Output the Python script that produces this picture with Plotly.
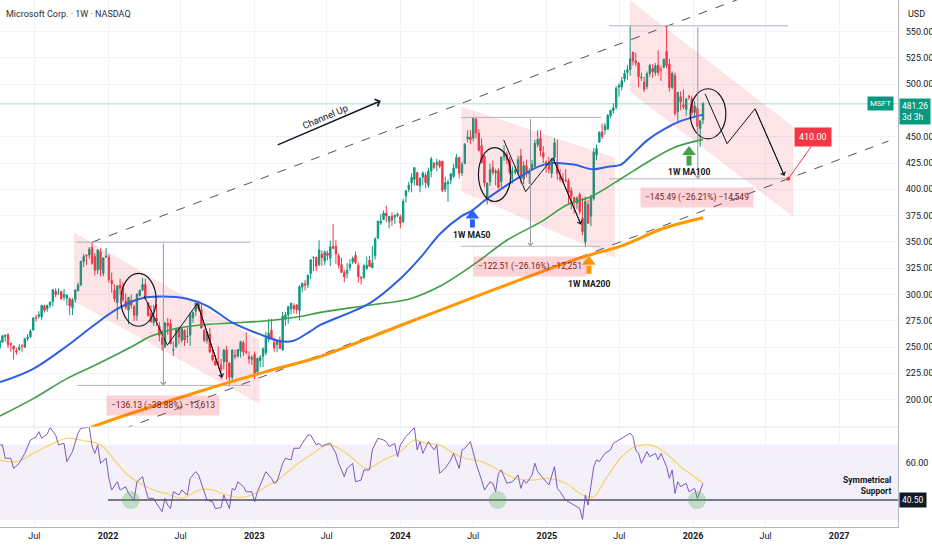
import plotly.graph_objects as go
import pandas as pd

# MSFT weekly candles, week of 2021-04-05 .. week of 2026-01-26
open_ = [
    249.1, 254.7, 260.2, 261.7, 253.4, 250.9, 246.6, 247.8, 251.2, 249.9, 257.9, 259.8, 266.2, 278.0, 279.2, 278.9, 289.0, 286.4, 289.8, 293.2,
    303.2, 301.1, 302.9, 297.6, 296.3, 296.1, 287.4, 295.3, 303.6, 309.4, 331.4, 337.3, 337.5, 344.6, 336.2, 323.2, 340.7, 320.1, 335.5,
    335.4, 313.2, 304.1, 292.2, 308.9, 306.2, 293.8, 285.0, 294.3, 288.5, 280.3, 298.9, 304.3, 309.4, 292.0, 281.7, 273.3, 277.7, 270.1, 259.0,
    250.3, 272.5, 272.1, 247.0, 250.3, 268.2, 256.4, 265.7, 259.8, 261.2, 277.8, 284.1, 291.0, 285.6, 265.9, 256.2, 262.3, 242.5, 236.8, 235.4,
    233.1, 236.0, 247.3, 234.8, 221.3, 242.0, 241.4, 246.1, 254.0, 245.9, 241.0, 238.7,
    243.1, 226.4, 237.0, 241.1, 244.5, 257.4, 266.0, 254.5, 252.5, 256.4, 247.4, 276.9, 280.5, 286.5, 289.3, 289.9, 284.7, 306.9, 310.1, 309.1,
    320.0, 335.3, 335.2, 328.6, 338.3, 331.9, 339.2, 334.6, 345.7, 345.9, 336.9, 328.3, 320.8, 320.2, 325.7, 331.3, 337.2, 327.8, 316.6, 316.3,
    324.8, 332.6, 325.5, 337.0, 353.4, 368.0, 371.2, 377.3, 369.1, 374.3, 373.7, 375.0,
    373.9, 369.3, 393.7, 400.0, 406.1, 409.3, 415.9, 403.2, 411.5, 413.4, 403.8, 417.3, 424.7, 423.6, 426.6, 426.6, 400.1, 405.3, 408.8, 412.2,
    420.2, 430.3, 415.5, 424.7, 448.0, 449.8, 448.7, 466.6, 453.3, 441.4, 431.6, 392.0, 407.1, 420.6, 415.7, 417.9, 407.2, 431.0, 433.0, 428.2,
    416.0, 416.1, 416.1, 431.7, 409.8, 422.5, 414.9, 419.1, 421.6, 442.6, 448.4, 434.7, 426.1,
    424.0, 415.2, 430.2, 424.0, 411.6, 409.6, 408.9, 408.0, 398.8, 392.3, 386.9, 395.2, 372.5, 350.0, 385.5, 374.4, 391.0, 432.8, 445.0, 454.6,
    456.5, 457.1, 470.0, 475.0, 478.0, 497.0, 497.3, 505.0, 511.0, 514.0, 530.0, 522.0, 520.0, 506.0, 502.0, 498.0, 510.0, 515.0, 511.0, 518.0,
    514.0, 516.0, 531.0, 519.0, 497.0, 508.0, 474.0, 488.0, 480.0, 476.0, 488.0, 486.0,
    473.0, 477.0, 458.0, 466.0,
]
high = [
    256.0, 261.0, 261.8, 263.2, 254.4, 251.7, 249.5, 252.9, 252.8, 258.1, 262.3, 267.0, 278.0, 280.7, 284.1, 289.9, 290.2, 290.3, 293.0, 305.3,
    305.8, 305.8, 303.5, 305.3, 300.1, 297.0, 296.6, 304.8, 311.1, 332.0, 338.8, 338.1, 345.1, 349.7, 339.3, 343.0, 343.8, 335.0, 344.3,
    338.0, 320.9, 309.8, 308.5, 315.1, 311.9, 300.9, 297.6, 300.0, 290.0, 301.0, 305.0, 315.9, 315.1, 292.6, 289.9, 290.0, 290.9, 273.8, 266.1,
    273.3, 277.7, 276.6, 255.3, 268.3, 269.4, 268.0, 267.0, 268.4, 283.1, 284.1, 292.4, 294.2, 290.2, 267.1, 264.7, 268.3, 247.7, 242.6, 250.6,
    238.6, 248.0, 251.0, 235.6, 248.0, 247.6, 248.0, 256.1, 256.1, 263.9, 245.8, 242.0,
    245.8, 240.0, 242.4, 249.8, 264.7, 276.8, 276.8, 259.0, 256.0, 260.1, 283.3, 283.3, 289.3, 292.1, 291.6, 291.0, 308.9, 311.0, 313.8, 319.0,
    333.4, 335.9, 336.0, 351.5, 342.0, 342.0, 341.7, 351.2, 366.8, 351.9, 339.0, 334.9, 323.4, 329.9, 333.5, 336.2, 340.9, 330.4, 317.2, 329.2,
    336.1, 336.9, 346.2, 354.4, 370.1, 376.4, 379.8, 384.3, 373.0, 378.0, 376.0, 378.0,
    375.9, 391.0, 398.7, 407.0, 415.3, 420.8, 416.0, 411.8, 417.0, 415.9, 420.7, 430.8, 426.0, 429.0, 428.1, 426.8, 412.0, 409.1, 415.3, 424.2,
    433.6, 431.0, 426.3, 444.0, 456.2, 456.2, 468.4, 467.7, 457.3, 448.4, 432.4, 406.0, 424.3, 427.5, 419.4, 420.0, 431.0, 441.9, 436.0, 431.0,
    421.7, 422.5, 432.0, 438.5, 426.9, 428.2, 419.9, 428.0, 447.1, 456.2, 456.2, 441.0, 427.5,
    430.7, 429.5, 448.4, 447.2, 419.6, 415.5, 419.3, 410.4, 402.0, 392.7, 393.5, 396.9, 392.0, 393.2, 389.7, 395.0, 439.4, 442.5, 455.0, 462.5,
    463.0, 471.5, 475.5, 482.0, 498.0, 500.8, 507.0, 513.4, 518.3, 555.45, 531.0, 530.0, 521.0, 511.0, 507.0, 512.0, 519.3, 519.0, 520.0, 532.0,
    517.0, 524.0, 555.45, 524.0, 512.0, 511.0, 493.0, 493.0, 495.0, 487.0, 490.0, 489.0,
    484.0, 480.0, 466.0, 483.0,
]
low = [
    247.0, 254.1, 255.2, 249.0, 245.6, 238.1, 242.6, 246.3, 245.6, 249.3, 255.6, 258.6, 265.9, 274.2, 277.0, 275.6, 282.8, 283.5, 287.2, 288.6,
    297.4, 299.5, 295.4, 294.1, 289.5, 280.3, 280.3, 292.4, 302.7, 307.8, 326.1, 327.8, 334.0, 328.2, 318.0, 319.2, 317.3, 317.2, 335.0,
    311.5, 301.6, 293.0, 276.1, 299.9, 293.0, 285.7, 271.5, 286.5, 275.0, 275.1, 298.0, 303.0, 294.9, 278.9, 273.2, 270.0, 270.0, 255.4, 246.4,
    249.0, 261.6, 252.9, 241.5, 249.2, 252.6, 254.1, 251.0, 253.8, 251.0, 273.1, 279.6, 284.6, 267.9, 254.8, 253.3, 244.2, 236.3, 232.3, 233.1,
    219.1, 228.6, 219.1, 213.4, 218.2, 238.3, 239.8, 240.0, 241.5, 243.3, 233.9, 233.0,
    219.4, 226.0, 230.7, 230.9, 242.2, 254.8, 261.9, 245.6, 245.0, 248.1, 246.4, 270.5, 272.3, 281.1, 282.0, 281.6, 275.4, 302.1, 303.8, 306.0,
    314.6, 322.3, 322.5, 326.8, 327.1, 327.8, 332.6, 327.0, 343.0, 329.1, 324.8, 320.5, 311.6, 315.1, 322.4, 329.0, 328.8, 311.2, 309.5, 314.6,
    323.3, 326.0, 325.0, 333.3, 353.3, 366.0, 370.8, 368.9, 362.9, 365.0, 367.2, 373.4,
    362.9, 367.8, 387.3, 397.2, 397.2, 403.4, 403.4, 397.2, 404.0, 400.9, 401.3, 411.5, 419.0, 417.1, 420.0, 397.4, 397.4, 388.0, 404.9, 410.7,
    419.8, 410.3, 412.8, 423.8, 444.6, 442.7, 445.5, 448.2, 436.0, 424.6, 402.3, 385.6, 403.2, 414.0, 403.8, 401.0, 401.6, 427.1, 424.0, 414.1,
    405.6, 413.9, 413.8, 405.5, 405.0, 411.5, 405.0, 418.0, 420.0, 440.0, 431.6, 425.0, 415.8,
    415.0, 410.7, 426.0, 408.9, 407.0, 406.1, 406.6, 386.6, 381.0, 376.9, 381.3, 376.2, 356.3, 344.8, 367.2, 365.0, 389.1, 427.6, 444.0, 448.0,
    452.0, 457.0, 467.5, 472.0, 476.0, 488.0, 494.0, 502.0, 504.0, 508.0, 518.0, 517.0, 497.0, 503.0, 492.4, 495.0, 507.0, 506.0, 508.0, 508.0,
    503.0, 515.0, 515.0, 493.0, 495.0, 470.0, 464.0, 475.0, 476.0, 470.0, 485.0, 470.0,
    469.0, 455.0, 440.5, 462.0,
]
close = [
    255.9, 260.7, 261.2, 252.2, 252.5, 248.2, 245.2, 249.7, 250.8, 257.9, 259.4, 265.0, 277.7, 277.9, 280.8, 289.7, 284.9, 289.5, 292.9, 304.4,
    299.7, 301.1, 295.7, 299.9, 299.4, 289.1, 294.9, 304.2, 309.2, 331.6, 336.1, 336.7, 343.1, 329.7, 323.0, 342.5, 323.8, 334.7, 336.3,
    314.0, 310.2, 296.0, 308.3, 305.9, 295.0, 287.9, 297.3, 289.9, 280.1, 300.4, 303.7, 309.4, 297.0, 280.0, 274.0, 277.5, 274.7, 261.1, 252.6,
    273.2, 270.4, 253.0, 247.7, 267.7, 259.6, 267.7, 256.7, 260.4, 280.7, 282.9, 291.9, 286.2, 268.1, 256.1, 264.5, 245.4, 237.9, 232.9, 234.2,
    228.6, 247.3, 235.9, 221.4, 247.1, 241.2, 247.5, 255.0, 245.4, 244.7, 238.7, 239.8,
    224.9, 239.2, 240.2, 248.2, 258.4, 263.1, 258.1, 249.2, 255.3, 248.6, 279.4, 280.6, 288.3, 291.6, 286.1, 285.8, 307.3, 310.7, 309.0, 318.3,
    332.9, 335.4, 326.8, 342.3, 335.0, 340.5, 337.2, 345.2, 343.8, 338.4, 327.8, 321.0, 316.5, 323.0, 328.7, 334.3, 330.2, 317.0, 315.8, 327.3,
    327.7, 326.7, 329.8, 352.8, 369.7, 369.9, 377.4, 374.5, 374.2, 370.7, 375.3, 376.0,
    367.8, 388.5, 398.7, 403.9, 411.2, 420.6, 404.1, 410.3, 415.5, 406.2, 417.3, 428.7, 420.7, 425.5, 421.9, 399.1, 406.3, 406.7, 414.7, 420.2,
    430.2, 415.1, 423.9, 442.6, 449.8, 447.0, 467.6, 453.6, 437.1, 425.3, 406.0, 406.0, 418.5, 416.1, 417.1, 401.7, 430.6, 435.3, 428.0, 416.1,
    416.3, 418.2, 428.2, 410.4, 422.5, 415.0, 417.0, 423.5, 443.6, 447.3, 436.6, 430.5, 423.4,
    419.0, 429.0, 444.1, 415.1, 409.8, 408.4, 408.2, 397.0, 393.3, 388.6, 391.3, 378.8, 359.8, 388.5, 367.8, 391.9, 435.3, 438.7, 454.3, 450.2,
    460.4, 470.4, 475.0, 477.4, 495.9, 498.8, 503.3, 510.1, 513.7, 524.1, 522.0, 520.2, 507.2, 506.7, 495.0, 509.9, 517.9, 511.5, 517.4, 511.0,
    513.6, 523.6, 517.8, 496.8, 510.2, 472.1, 492.0, 483.2, 478.5, 485.9, 487.7, 472.9,
    479.3, 459.9, 465.0, 481.26,
]
weeks = pd.date_range("2021-04-05", periods=len(close), freq="7D")

# moving averages
ma50_dates = ["2021-04-06", "2021-06-27", "2021-09-20", "2021-11-24", "2022-01-23", "2022-03-22", "2022-05-11", "2022-07-17",
              "2022-09-06", "2022-11-09", "2023-01-16", "2023-03-07", "2023-04-09", "2023-05-21", "2023-06-15", "2023-10-18",
              "2024-01-01", "2024-02-20", "2024-04-10", "2024-05-31", "2024-06-29", "2024-08-01", "2024-09-25", "2024-11-04",
              "2024-12-17", "2025-01-18", "2025-03-09", "2025-04-26", "2025-06-02", "2025-07-05", "2025-07-30", "2025-09-10",
              "2025-10-20", "2025-12-02", "2026-01-26"]
ma50_vals = [216.6, 229, 251, 270, 286, 296, 298, 296, 289, 273, 262, 255.6, 256, 265, 271, 292, 315, 335, 358, 374,
             380, 390, 404.5, 414, 422.5, 425, 423.5, 419, 421.5, 423.5, 432, 447, 457, 465, 471]
ma100_dates = ["2021-04-06", "2021-06-27", "2021-09-20", "2021-12-12", "2022-03-04", "2022-04-16", "2022-06-12", "2022-08-19",
               "2022-11-09", "2023-02-03", "2023-04-26", "2023-06-15", "2023-10-18", "2024-01-26", "2024-04-10", "2024-05-31",
               "2024-07-19", "2024-09-25", "2024-12-17", "2025-02-22", "2025-04-21", "2025-07-05", "2025-09-10", "2025-11-14",
               "2026-01-26"]
ma100_vals = [184.5, 200.7, 220, 235, 251, 260, 267, 271, 273, 275, 279, 283, 290, 296, 308, 320, 333, 352, 369, 385.5,
              393, 410, 426, 439.6, 447.5]
ma200_dates = ["2021-10-23", "2021-11-29", "2022-08-19", "2023-02-03", "2023-06-15", "2024-01-01", "2024-06-17",
               "2025-03-27", "2025-07-05", "2025-10-20", "2026-01-26"]
ma200_vals = [169, 175, 208, 227, 241, 270.5, 295, 335, 346, 363, 373]

# RSI (week index into weeks) and its moving average
rsi_week = [0, 1, 2, 4, 5, 7, 9, 11, 13, 14, 15, 17, 18, 20, 21, 23, 24, 26, 28, 29, 31, 32, 33, 34, 35, 36, 38, 39, 40, 42,
            43, 45, 46, 48, 49, 51, 52, 53, 55, 56, 58, 59, 60, 61, 62, 64, 65, 67, 68, 70, 71, 72, 74, 76, 77, 79, 80, 82, 83, 84,
            85, 87, 88, 90, 91, 92, 93, 95, 97, 98, 99, 101, 102, 104, 105, 107, 108, 110, 111, 113, 114, 115, 116, 118, 120, 121, 123, 124, 126, 127,
            129, 130, 132, 133, 135, 137, 138, 139, 141, 142, 143, 145, 148, 149, 150, 151, 153, 155, 156, 157, 159, 161, 162, 164, 165, 166, 168, 170, 172, 173,
            175, 176, 177, 178, 179, 181, 183, 185, 186, 187, 188, 190, 191, 192, 194, 196, 198, 199, 200, 202, 203, 205, 206, 207, 208, 209, 210, 211, 212, 213,
            214, 216, 218, 219, 222, 224, 225, 226, 227, 228, 229, 231, 232, 234, 235, 236, 238, 239, 240, 241, 242, 243, 245, 246, 248, 249, 250, 251]
rsi_val = [69.8, 69.8, 62.7, 62.7, 57.3, 60, 65.3, 72.4, 74, 76.8, 73.3, 75.5, 79, 75, 69.8, 70.6, 60.9, 66.2, 76, 78.6, 79, 79.3, 68.9, 65.3, 69.8, 60, 62.7, 52, 45.8, 50.2,
           45.8, 47.6, 44, 40.5, 50.2, 52.9, 46.7, 41.4, 41.4, 38.7, 34.3, 41.4, 37.8, 36, 44.9, 43.2, 45.8, 43.2, 52, 55.6, 53.8, 49.4, 40.5, 39.6, 36, 36.5, 43.2, 36, 46.7, 45.8,
           50.2, 47.6, 44.9, 44.9, 39.6, 44.9, 48.5, 55.6, 52, 49.4, 50.2, 60, 62.7, 61.8, 68, 68, 70.6, 75, 75, 69.8, 70.6, 68.9, 69.8, 70.6, 65.3, 60, 52.9, 57.3, 60, 50.2,
           51.1, 56.5, 56.5, 67.1, 73.3, 72.4, 71.5, 68.9, 70.6, 63.5, 69.8, 74.2, 79, 67.1, 71.5, 65.3, 71.5, 67.1, 69.8, 54.7, 57.3, 61.8, 65.3, 57.3, 67.1, 68, 71.5, 60, 51.1, 45.8,
           50.2, 49.4, 44.9, 54.7, 56.5, 49.4, 50.2, 53.8, 46.7, 51.1, 49.4, 53.8, 60, 55.6, 52, 48.5, 58.2, 46.7, 44.9, 40.5, 39.6, 37.8, 36.5, 36, 30.2, 43.2, 37.8, 49, 58.2, 61.8,
           60.9, 65.3, 67.1, 70.6, 73.3, 75, 76, 74.2, 67.1, 65.3, 60, 66.2, 63.5, 65.3, 61.8, 65.3, 58.2, 52, 56.5, 44, 50.2, 47.6, 49.4, 44.9, 46.7, 41.4, 44.9, 49.4]
rsi_ma_week = [0, 6, 12, 18, 24, 30, 36, 40, 45, 50, 55, 60, 65, 71, 75, 81, 86, 90, 95, 100, 105, 111, 117, 121, 126,
               131, 137, 143, 148, 152, 157, 162, 166, 172, 178, 184, 190, 196, 202, 208, 212, 216, 222, 227, 232, 237, 243, 247, 251]
rsi_ma_val = [61.8, 60.9, 65.3, 69.8, 73.3, 72, 69.8, 63.5, 54.7, 49.4, 45.8, 43.7, 41.4, 45.8, 46.2, 43.2, 41.9, 43.2, 47.6, 52,
              58.2, 64.4, 69.8, 68, 62.7, 57.3, 61.8, 66.2, 72.4, 70.6, 69.8, 65.3, 62.7, 60.9, 56.5, 52, 51.1, 52, 49.4, 43.2,
              42.3, 51.1, 63.5, 68.9, 69.8, 66.2, 58.2, 53.8, 49.4]

tick_dates = ["2021-07-01", "2022-01-01", "2022-07-01", "2023-01-01", "2023-07-01", "2024-01-01", "2024-07-01",
              "2025-01-01", "2025-07-01", "2026-01-01", "2026-07-01", "2027-01-01"]
tick_text = ["Jul", "<b>2022</b>", "Jul", "<b>2023</b>", "Jul", "<b>2024</b>", "Jul", "<b>2025</b>", "Jul", "<b>2026</b>", "Jul", "<b>2027</b>"]
# 475 is hidden behind the live price tag on the reference
price_ticks = [200, 225, 250, 275, 300, 325, 350, 375, 400, 425, 450, 500, 525, 550]

UP = "#089981"
DN = "#F23645"
INK = "#131722"
GRID = "#f0f3fa"
GRAY = "#b2b5be"
FONT = "Roboto, 'Noto Sans', sans-serif"

fig = go.Figure()


def line(xs, ys, color, width=1.0, dash=None, yaxis="y", shape="linear"):
    fig.add_trace(go.Scatter(x=xs, y=ys, mode="lines", yaxis=yaxis, hoverinfo="skip", showlegend=False,
                             line=dict(color=color, width=width, dash=dash, shape=shape)))


def arrow(x, y, ax, ay, color=INK, width=1.0, head=4, yref="y"):
    fig.add_annotation(x=x, y=y, ax=ax, ay=ay, xref="x", yref=yref, axref="x", ayref=yref, text="",
                       showarrow=True, arrowhead=head, arrowsize=1, arrowwidth=width, arrowcolor=color, standoff=0)


# pink descending channels
for xs, ys in [
    (["2021-10-08", "2023-01-14", "2023-01-14", "2021-10-08"], [359, 257, 196, 293.5]),
    (["2024-06-02", "2025-06-20", "2025-06-20", "2024-06-02"], [478.5, 430, 335, 398]),
    (["2025-07-27", "2026-09-08", "2026-09-08", "2025-07-27"], [580, 459.5, 374, 492.7]),
]:
    fig.add_trace(go.Scatter(x=xs, y=ys, fill="toself", fillcolor="rgba(242,54,69,0.13)", mode="lines",
                             line=dict(width=0), hoverinfo="skip", showlegend=False))

# Channel Up borders
line(["2021-11-22", "2027-01-31"], [349.7, 621], "#50535e", 1, "dash")
line(["2021-11-17", "2027-05-04"], [160.1, 445.9], "#50535e", 1, "dash")

# current price line
line(["2021-04-01", "2027-06-30"], [481.26, 481.26], "rgba(8,153,129,0.35)", 1)

# measurement tools
for x0, x1, xm, top, bot in [
    ("2021-10-15", "2022-12-22", "2022-05-19", 349.67, 213.54),
    ("2024-05-31", "2025-05-16", "2024-11-21", 468.35, 345.84),
    ("2025-06-05", "2026-08-27", "2026-01-13", 555.45, 409.96),
]:
    line([x0, x1], [top, top], GRAY, 1)
    line([x0, x1], [bot, bot], GRAY, 1)
    arrow(xm, bot, xm, top, color="#9598a1", width=1, head=4)

# moving averages
line(ma100_dates, ma100_vals, "#3f9e44", 1.6, shape="spline")
line(ma50_dates, ma50_vals, "#2d5fe0", 2, shape="spline")
line(ma200_dates, ma200_vals, "#FF9800", 3, shape="spline")

fig.add_trace(go.Candlestick(
    x=weeks, open=open_, high=high, low=low, close=close, whiskerwidth=0,
    increasing=dict(line=dict(color=UP, width=1), fillcolor=UP),
    decreasing=dict(line=dict(color=DN, width=1), fillcolor=DN),
    showlegend=False, hoverinfo="skip"))

# projected paths
for xs, ys in [
    (["2022-04-01", "2022-05-29", "2022-08-12", "2022-10-13"], [298.6, 251.8, 291.5, 221]),
    (["2024-09-15", "2024-11-09", "2025-01-16", "2025-03-27"], [447, 397.7, 430, 366.6]),
    (["2026-01-31", "2026-03-27", "2026-06-05", "2026-08-17"], [490.8, 443.4, 476.6, 413]),
]:
    line(xs, ys, INK, 1)
    arrow(xs[-1], ys[-1], xs[-2], ys[-2], width=1, head=4)

# circles on the pullbacks
for x0, x1, y0, y1 in [("2022-02-02", "2022-05-01", 269.8, 320), ("2024-07-14", "2024-10-03", 388.4, 439.6),
                       ("2025-12-25", "2026-03-24", 448, 495.6)]:
    fig.add_shape(type="circle", xref="x", yref="y", x0=x0, x1=x1, y0=y0, y1=y1, line=dict(color=INK, width=1.2))

# MA arrows
for xd, stem0, stem1, head_y, col, txt, ty in [
    ("2024-06-29", 363.6, 371.5, 375, "#2962FF", "1W MA50", 357),
    ("2025-04-16", 319.6, 327.6, 331, "#FF9800", "1W MA200", 309.7),
    ("2025-12-22", 422.5, 432, 435.4, "#43A047", "1W MA100", 416.8),
]:
    line([xd, xd], [stem0, stem1], col, 5)
    fig.add_trace(go.Scatter(x=[xd], y=[head_y], mode="markers", hoverinfo="skip", showlegend=False,
                             marker=dict(symbol="triangle-up", size=12, color=col, line=dict(width=0))))
    fig.add_annotation(x=xd, y=ty, xref="x", yref="y", text="<b>" + txt + "</b>", showarrow=False,
                       font=dict(size=8.5, color=INK))

# measurement labels
for xd, yv, txt in [("2022-05-19", 194.9, "\u2212136.13 (\u221238.88%) \u221213,613"),
                    ("2024-11-19", 326.8, "\u2212122.51 (\u221226.16%) \u221212,251"),
                    ("2026-01-11", 392, "\u2212145.49 (\u221226.21%) \u221214,549")]:
    fig.add_annotation(x=xd, y=yv, xref="x", yref="y", text=txt, showarrow=False,
                       bgcolor="rgba(242,54,69,0.22)", borderpad=4, font=dict(size=8.5, color="#7a1c22"))

# target
line(["2026-08-27", "2026-10-23"], [410, 440.5], DN, 1)
fig.add_trace(go.Scatter(x=["2026-08-27"], y=[410], mode="markers", hoverinfo="skip", showlegend=False,
                         marker=dict(size=4, color=DN)))
fig.add_annotation(x="2026-10-28", y=449.7, xref="x", yref="y", text="410.00", showarrow=False,
                   bgcolor=DN, borderpad=4, font=dict(size=9, color="white"))

# Channel Up label
arrow("2023-11-13", 484.2, "2023-02-25", 441.6, width=1.5, head=4)
fig.add_annotation(x="2023-06-28", y=469, xref="x", yref="y", text="Channel Up", textangle=-23,
                   showarrow=False, font=dict(size=9.5, color=INK))

# RSI pane
fig.add_shape(type="rect", xref="paper", yref="y2", x0=0, x1=1, y0=30, y1=70, layer="below",
              fillcolor="rgba(126,87,194,0.09)", line=dict(width=0))
line([weeks[i] for i in rsi_ma_week], rsi_ma_val, "#F7D469", 1.2, yaxis="y2", shape="spline")
line([weeks[i] for i in rsi_week], rsi_val, "#7E57C2", 1, yaxis="y2")
line(["2022-01-01", "2027-06-30"], [40.5, 40.5], "#50535e", 1.6, yaxis="y2")
fig.add_trace(go.Scatter(x=["2022-02-27", "2024-08-31", "2026-01-11"], y=[40.5, 40.5, 40.5], yaxis="y2",
                         mode="markers", hoverinfo="skip", showlegend=False,
                         marker=dict(size=18, color="rgba(76,175,80,0.3)")))
fig.add_annotation(x=0.994, y=48, xref="paper", yref="y2", xanchor="right", text="<b>Symmetrical<br>Support</b>",
                   align="right", showarrow=False, font=dict(size=8.5, color=INK))

# pane separator
fig.add_shape(type="line", xref="paper", yref="paper", x0=0, x1=1, y0=0.1898, y1=0.1898,
              line=dict(color="#e0e3eb", width=1))

# header / axis tags
fig.add_annotation(x=0.005, y=0.9725, xref="paper", yref="paper", xanchor="left", yanchor="middle",
                   text="Microsoft Corp. \u00b7 1W \u00b7 NASDAQ", showarrow=False, font=dict(size=9, color="#2a2e39"))
fig.add_annotation(x=1.009, y=0.9735, xref="paper", yref="paper", xanchor="left", yanchor="middle", text="USD",
                   showarrow=False, font=dict(size=9, color=INK))
fig.add_annotation(x=0.996, y=481.26, xref="paper", yref="y", xanchor="right", text="MSFT", showarrow=False,
                   bgcolor=UP, borderpad=2, font=dict(size=8, color="white"))
fig.add_annotation(x=1.001, y=486.6, xref="paper", yref="y", xanchor="left", yanchor="top", align="left",
                   text="481.26<br>3d 3h", showarrow=False, bgcolor=UP, borderpad=2, font=dict(size=8.5, color="white"))
fig.add_annotation(x=1.001, y=40.5, xref="paper", yref="y2", xanchor="left", text="40.50", showarrow=False,
                   bgcolor=INK, borderpad=2, font=dict(size=8.5, color="white"))

fig.update_layout(
    width=932, height=550, margin=dict(l=0, r=34, t=0, b=23),
    paper_bgcolor="white", plot_bgcolor="white", showlegend=False,
    font=dict(family=FONT, size=9, color=INK),
    xaxis=dict(range=["2021-04-06", "2027-05-28"], anchor="y2", tickvals=tick_dates, ticktext=tick_text,
               showgrid=True, gridcolor=GRID, showline=True, linecolor=GRAY, ticks="", zeroline=False,
               rangeslider=dict(visible=False), tickfont=dict(size=9, color=INK)),
    yaxis=dict(domain=[0.1898, 1], range=[174, 580], side="right", tickvals=price_ticks,
               tickformat=".2f", showgrid=True, gridcolor=GRID, showline=True, linecolor=GRAY, ticks="",
               zeroline=False, ticklabelstandoff=5, tickfont=dict(size=9, color=INK)),
    yaxis2=dict(domain=[0, 0.1898], range=[26.2, 79.3], side="right", tickvals=[60], tickformat=".2f",
                showgrid=True, gridcolor=GRID, showline=True, linecolor=GRAY, ticks="", zeroline=False,
                ticklabelstandoff=5, tickfont=dict(size=9, color=INK)),
)

# the page body has a default 8px margin; drop it so the figure fills the window
fig.write_html("out.html", config={"displayModeBar": False},
               post_script="document.body.style.margin = '0px';")
